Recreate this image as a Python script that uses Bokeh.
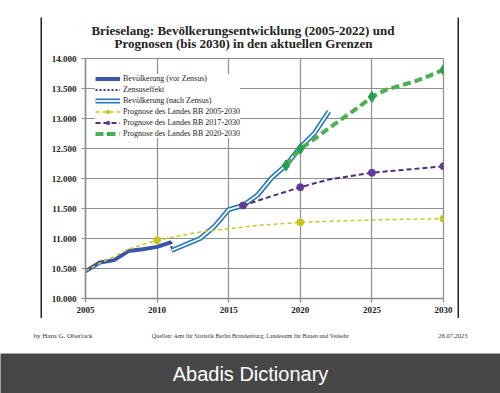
from bokeh.plotting import figure
from bokeh.models import Label, Legend, LegendItem, FixedTicker, Range1d
from bokeh.layouts import column, row
from bokeh.embed import file_html
from bokeh.resources import INLINE

# ---------------- data ----------------
title_line1 = "Brieselang:  Bevölkerungsentwicklung (2005-2022) und"
title_line2 = "Prognosen (bis 2030) in den aktuellen Grenzen"

x_ticks = [2005, 2010, 2015, 2020, 2025, 2030]
y_ticks = [10000, 10500, 11000, 11500, 12000, 12500, 13000, 13500, 14000]
y_tick_labels = ["10.000", "10.500", "11.000", "11.500", "12.000", "12.500", "13.000", "13.500", "14.000"]

years_vor = [2005, 2006, 2007, 2008, 2009, 2010, 2011]
pop_vor = [10455, 10600, 10640, 10790, 10820, 10860, 10940]

years_census = [2011, 2011]
pop_census = [10940, 10800]

years_nach = [2011, 2012, 2013, 2014, 2015, 2016, 2017, 2018, 2019, 2020, 2021, 2022]
pop_nach = [10800, 10900, 11000, 11200, 11480, 11550, 11720, 12010, 12220, 12520, 12760, 13120]

years_p05 = [2005, 2006, 2007, 2008, 2009, 2010, 2013, 2015, 2017, 2020, 2025, 2030]
pop_p05 = [10455, 10590, 10700, 10820, 10900, 10970, 11110, 11160, 11220, 11270, 11310, 11330]
marker_years_p05 = [2010, 2020, 2030]

years_p17 = [2016, 2018, 2020, 2022, 2025, 2030]
pop_p17 = [11550, 11705, 11855, 11985, 12095, 12205]
marker_years_p17 = [2016, 2020, 2025, 2030]

years_p20 = [2019, 2020, 2021, 2022, 2023, 2024, 2025, 2026, 2027, 2028, 2029, 2030]
pop_p20 = [12217, 12495, 12660, 12840, 13010, 13175, 13360, 13480, 13550, 13620, 13710, 13810]
marker_years_p20 = [2019, 2020, 2025, 2030]

legend_labels = [
    "Bevölkerung (vor Zensus)",
    "Zensuseffekt",
    "Bevölkerung (nach Zensus)",
    "Prognose des Landes BB 2005-2030",
    "Prognose des Landes BB 2017-2030",
    "Prognose des Landes BB 2020-2030",
]

footer_left = "by Hans G. Oberlack"
footer_mid = "Quellen: Amt für Statistik Berlin Brandenburg, Landesamt für Bauen und Verkehr"
footer_right = "28.07.2023"
band_text = "Abadis Dictionary"


def pick(years, pops, wanted):
    lookup = dict(zip(years, pops))
    return [lookup[y] for y in wanted]


SERIF = "Liberation Serif"
BOX = "#222222"


def no_align(fig):
    try:
        fig.frame_align = False
    except Exception:
        pass


def blank_fig(w, h, fill):
    f = figure(width=w, height=h, x_range=Range1d(0, w), y_range=Range1d(h, 0),
               output_backend="svg", toolbar_location=None,
               x_axis_type=None, y_axis_type=None, min_border=0)
    f.outline_line_color = None
    f.background_fill_color = fill
    f.border_fill_color = fill
    no_align(f)
    return f


# ---------------- title (inside the boxed area) ----------------
tfig = blank_fig(415, 33, "white")
tfig.add_layout(Label(x=202, y=11, text=title_line1, text_align="center", text_baseline="middle",
                      text_font=SERIF, text_font_style="bold", text_font_size="13px",
                      text_color="#222222"))
tfig.add_layout(Label(x=201, y=24, text=title_line2, text_align="center", text_baseline="middle",
                      text_font=SERIF, text_font_style="bold", text_font_size="13px",
                      text_color="#222222"))

# ---------------- chart ----------------
p = figure(width=415, height=264, x_range=Range1d(2005, 2030), y_range=Range1d(10000, 14000),
           output_backend="svg", toolbar_location=None,
           min_border_left=43, min_border_right=14, min_border_top=6, min_border_bottom=18)
no_align(p)
p.background_fill_color = "white"
p.border_fill_color = "white"
p.outline_line_color = "#8c8c8c"
p.outline_line_width = 1.2

for ax in (p.xaxis[0], p.yaxis[0]):
    ax.axis_line_color = "#8c8c8c"
    ax.axis_line_width = 1.5
    ax.major_tick_line_color = "#8c8c8c"
    ax.major_tick_line_width = 1.2
    ax.major_tick_out = 4
    ax.major_tick_in = 0
    ax.minor_tick_line_color = None
    ax.major_label_text_font = SERIF
    ax.major_label_text_font_style = "bold"
    ax.major_label_text_font_size = "9px"
    ax.major_label_text_color = "#222222"
p.xaxis.major_label_standoff = 4
p.yaxis.major_label_standoff = 5

p.xaxis.ticker = FixedTicker(ticks=x_ticks)
p.yaxis.ticker = FixedTicker(ticks=y_ticks)
p.xaxis.major_label_overrides = {t: str(t) for t in x_ticks}
p.yaxis.major_label_overrides = dict(zip(y_ticks, y_tick_labels))
p.xgrid.ticker = FixedTicker(ticks=x_ticks)
p.ygrid.ticker = FixedTicker(ticks=y_ticks)
p.grid.grid_line_color = "#8f8f8f"
p.grid.grid_line_width = 1.2

r_vor = p.line(years_vor, pop_vor, line_color="#3a56a8", line_width=4)
r_cen = p.line(years_census, pop_census, line_color="#2f3b8f", line_width=2, line_dash="2 2")
r_nach_o = p.line(years_nach, pop_nach, line_color="#2677bb", line_width=5)
r_nach_i = p.line(years_nach, pop_nach, line_color="white", line_width=1.8)

r_p05 = p.line(years_p05, pop_p05, line_color="#c8c82a", line_width=1.5, line_dash="4 3")
r_p05m = p.scatter(marker_years_p05, pick(years_p05, pop_p05, marker_years_p05),
                   marker="circle", size=7, fill_color="#c6c61c", line_color="#c6c61c")

r_p17 = p.line(years_p17, pop_p17, line_color="#4e2c80", line_width=2, line_dash="5 3")
r_p17m = p.scatter(marker_years_p17, pick(years_p17, pop_p17, marker_years_p17),
                   marker="circle", size=7, fill_color="#65399a", line_color="#65399a")

r_p20 = p.line(years_p20, pop_p20, line_color="#4cb050", line_width=4, line_dash="8 4")
r_p20m = p.scatter(marker_years_p20, pick(years_p20, pop_p20, marker_years_p20),
                   marker="diamond", size=11, fill_color="#23a052", line_color="#23a052")

legend = Legend(items=[
    LegendItem(label=legend_labels[0], renderers=[r_vor]),
    LegendItem(label=legend_labels[1], renderers=[r_cen]),
    LegendItem(label=legend_labels[2], renderers=[r_nach_o, r_nach_i]),
    LegendItem(label=legend_labels[3], renderers=[r_p05, r_p05m]),
    LegendItem(label=legend_labels[4], renderers=[r_p17, r_p17m]),
    LegendItem(label=legend_labels[5], renderers=[r_p20, r_p20m]),
], location=(10, 160), padding=8, margin=0, spacing=2,
    glyph_width=25, glyph_height=9, label_height=9, label_standoff=3,
    label_text_font=SERIF, label_text_font_size="8px", label_text_color="#222222",
    background_fill_color="white", background_fill_alpha=1.0, border_line_color=None)
p.add_layout(legend)

# boxed area: drawn with thin filled strips around title + chart
inner = column(blank_fig(415, 2, BOX), tfig, p, blank_fig(415, 2, BOX), spacing=0)
boxed_row = row(blank_fig(40, 301, "white"), blank_fig(2, 301, BOX), inner,
                blank_fig(2, 301, BOX), blank_fig(41, 301, "white"), spacing=0)

# ---------------- footer ----------------
ffig = blank_fig(500, 35, "white")
ffig.add_layout(Label(x=33, y=17, text=footer_left, text_align="left", text_baseline="middle",
                      text_font=SERIF, text_font_size="7px", text_color="#333333"))
ffig.add_layout(Label(x=250, y=17, text=footer_mid, text_align="center", text_baseline="middle",
                      text_font=SERIF, text_font_size="6px", text_color="#333333"))
ffig.add_layout(Label(x=467, y=17, text=footer_right, text_align="right", text_baseline="middle",
                      text_font=SERIF, text_font_size="6.5px", text_color="#333333"))

# ---------------- bottom band ----------------
band = blank_fig(500, 40, "#474747")
band.add_layout(Label(x=250, y=20, text=band_text, text_align="center", text_baseline="middle",
                      text_font="Liberation Sans", text_font_size="20px", text_color="white"))

layout = column(blank_fig(500, 17, "white"), boxed_row, ffig, band, spacing=0)
open("out.html", "w").write(file_html(layout, INLINE))
